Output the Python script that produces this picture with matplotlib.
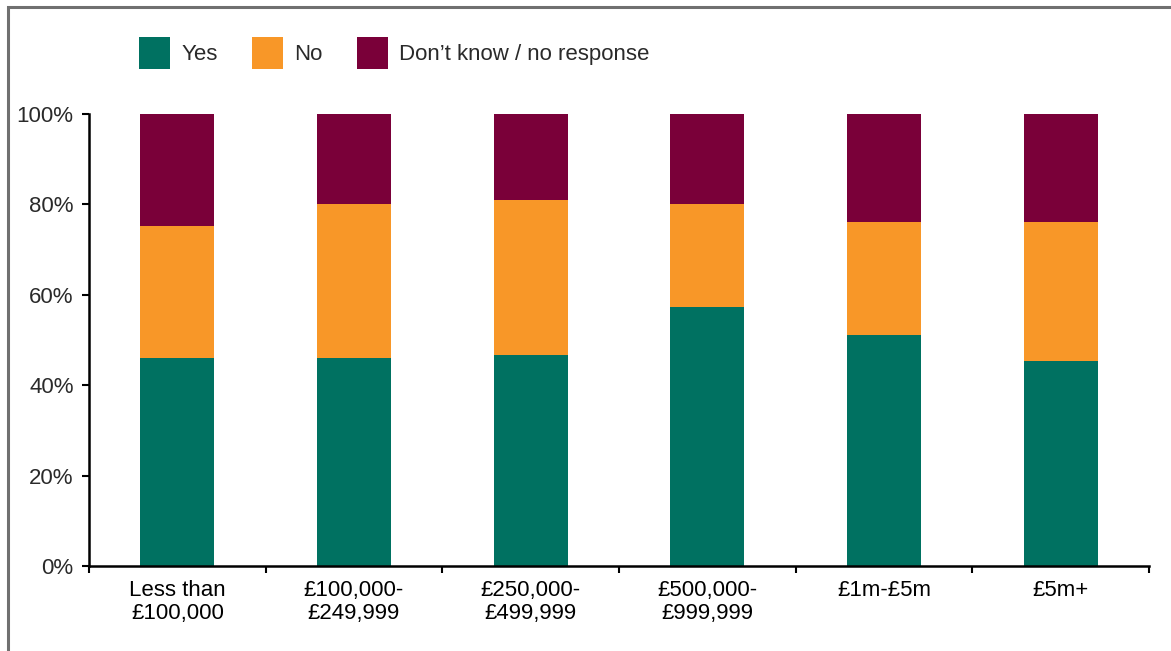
import numpy as np
import matplotlib.pyplot as plt
from matplotlib.patches import Patch, Rectangle
from matplotlib.ticker import PercentFormatter

plt.rcParams['font.family'] = ['Liberation Sans', 'DejaVu Sans']
plt.rcParams['font.size'] = 16

categories = ['Less than\n£100,000', '£100,000-\n£249,999', '£250,000-\n£499,999',
              '£500,000-\n£999,999', '£1m-£5m', '£5m+']
yes = [46.0, 46.0, 46.7, 57.3, 51.1, 45.4]
no = [29.2, 34.1, 34.3, 22.8, 25.0, 30.7]
dont_know = [24.8, 19.9, 19.0, 19.9, 23.9, 23.9]
series_names = ['Yes', 'No', 'Don\u2019t know / no response']
colours = ['#007161', '#F89728', '#7A0039']
text_col = '#2a2a2a'

fig = plt.figure(figsize=(11.71, 6.51), dpi=100)
ax = fig.add_axes([0.076, 0.1306, 0.9052, 0.6943])

# outer frame, only top and left edges show
fig.patches.append(Rectangle((8 / 1171, -0.1), 1.2, 1 - 7 / 651 + 0.1,
                             transform=fig.transFigure, fill=False,
                             edgecolor='#707070', linewidth=2.2))

x = np.arange(len(categories))
bottom = np.zeros(len(categories))
for vals, c in zip([yes, no, dont_know], colours):
    ax.bar(x, vals, width=0.42, bottom=bottom, color=c, linewidth=0)
    bottom += np.array(vals)

ax.set_xlim(-0.5, len(categories) - 0.5)
ax.set_ylim(0, 100)
ax.set_yticks(np.arange(0, 101, 20))
ax.yaxis.set_major_formatter(PercentFormatter(decimals=0))

# ticks between categories, labels at bar centres
ax.set_xticks(np.arange(-0.5, len(categories)), labels=[''] * (len(categories) + 1))
ax.set_xticks(x, labels=categories, minor=True)
for lab in ax.get_xticklabels(minor=True):
    lab.set_linespacing(1.15)
ax.tick_params(axis='x', which='major', length=5, width=1.5, direction='out')
ax.tick_params(axis='x', which='minor', length=0, pad=10)
ax.tick_params(axis='y', length=5, width=1.5, pad=6)
ax.tick_params(colors='black', labelcolor=text_col)

for s in ['top', 'right']:
    ax.spines[s].set_visible(False)
for s in ['left', 'bottom']:
    ax.spines[s].set_linewidth(1.8)

handles = [Patch(facecolor=c, edgecolor='none') for c in colours]
fig.legend(handles, series_names, loc='center left',
           bbox_to_anchor=(0.1187, 0.9186), ncol=3, frameon=False,
           handlelength=1.4, handleheight=1.9, handletextpad=0.5,
           columnspacing=1.55, borderaxespad=0, borderpad=0,
           labelcolor=text_col)

fig.savefig('out.png', dpi=100)
